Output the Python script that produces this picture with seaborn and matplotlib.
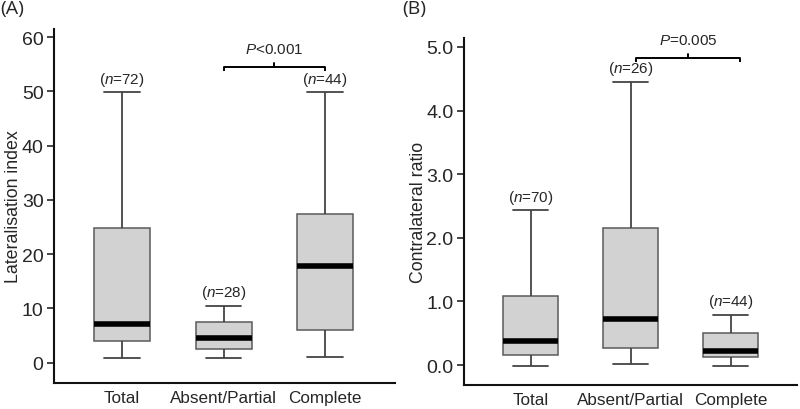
import numpy as np
import pandas as pd
import matplotlib
matplotlib.use("Agg")
import matplotlib.pyplot as plt
import seaborn as sns

# =============================
# Data (five-number summaries)
# =============================
groups = ["Total", "Absent/Partial", "Complete"]

# (A) Lateralisation index
lat_low = [0.9, 0.9, 1.05]
lat_q1 = [4.05, 2.45, 6.1]
lat_med = [7.2, 4.55, 17.9]
lat_q3 = [24.9, 7.5, 27.4]
lat_high = [49.8, 10.4, 49.8]
lat_n = [72, 28, 44]

# (B) Contralateral ratio
cr_low = [-0.01, 0.016, -0.01]
cr_q1 = [0.157, 0.268, 0.131]
cr_med = [0.383, 0.719, 0.22]
cr_q3 = [1.09, 2.15, 0.498]
cr_high = [2.43, 4.45, 0.79]
cr_n = [70, 26, 44]

# significance brackets: (x start, x end, y, label)
lat_bracket = (1.0, 2.0, 54.5, r"$\mathit{P}$<0.001")
cr_bracket = (1.05, 2.09, 4.82, r"$\mathit{P}$=0.005")


def long_frame(low, q1, med, q3, high):
    # 5 values per group -> quartiles fall exactly on them
    rows = []
    for g, vals in zip(groups, zip(low, q1, med, q3, high)):
        for v in vals:
            rows.append({"group": g, "value": v})
    return pd.DataFrame(rows)


df_lat = long_frame(lat_low, lat_q1, lat_med, lat_q3, lat_high)
df_cr = long_frame(cr_low, cr_q1, cr_med, cr_q3, cr_high)

# =============================
# Style
# =============================
sns.set_style("ticks")
plt.rcParams["font.family"] = ["Liberation Sans", "DejaVu Sans"]
plt.rcParams["mathtext.fontset"] = "custom"
plt.rcParams["mathtext.rm"] = "Liberation Sans"
plt.rcParams["mathtext.it"] = "Liberation Sans:italic"

box_kw = dict(
    color="#d2d2d2",
    width=0.55,
    whis=(0, 100),
    linewidth=1.1,
    capwidths=0.35,
    boxprops=dict(edgecolor="#5a5a5a"),
    whiskerprops=dict(color="#444444", linewidth=1.3),
    capprops=dict(color="#444444", linewidth=1.3),
    medianprops=dict(color="black", linewidth=4.0),
    showfliers=False,
)

fig = plt.figure(figsize=(8, 4.1), dpi=100)
ax_a = fig.add_axes([0.0675, 0.064, 0.4265, 0.863])
ax_b = fig.add_axes([0.58, 0.059, 0.416, 0.846])


def draw_panel(ax, df, high, n, bracket, ylim, xlim, ticks, ticklabels, ylabel, label_x):
    sns.boxplot(data=df, x="group", y="value", order=groups, ax=ax, **box_kw)
    ax.set_ylim(*ylim)
    ax.set_xlim(*xlim)
    ax.set_yticks(ticks)
    ax.set_yticklabels(ticklabels)
    ax.set_xlabel("")
    ax.set_ylabel(ylabel, fontsize=12.8)
    ax.yaxis.set_label_coords(label_x, 0.5)
    sns.despine(ax=ax)
    for s in ["left", "bottom"]:
        ax.spines[s].set_linewidth(1.5)
        ax.spines[s].set_color("#111111")
    ax.tick_params(axis="y", labelsize=14, length=5, width=1.2, pad=2.5)
    ax.tick_params(axis="x", labelsize=12.3, length=0, pad=5)

    # n labels above the upper whiskers
    for i, (h, k) in enumerate(zip(high, n)):
        ax.annotate(rf"($\mathit{{n}}$={k})", (i, h), xytext=(0, 3.5),
                    textcoords="offset points", ha="center", va="bottom", fontsize=11)

    # significance bracket
    x0, x1, y, txt = bracket
    span = ylim[1] - ylim[0]
    drop = span * 0.012
    ax.plot([x0, x0, x1, x1], [y - drop, y, y, y - drop], color="black", lw=1.4,
            solid_capstyle="butt", clip_on=False)
    xm = (x0 + x1) / 2
    ax.plot([xm, xm], [y, y + drop], color="black", lw=1.4, clip_on=False)
    ax.text(xm, y + span * 0.052, txt, ha="center", va="center", fontsize=11)


draw_panel(ax_a, df_lat, lat_high, lat_n, lat_bracket, (-3.7, 61.5), (-0.67, 2.69),
           [0, 10, 20, 30, 40, 50, 60], ["0", "10", "20", "30", "40", "50", "60"],
           "Lateralisation index", -0.095)
draw_panel(ax_b, df_cr, cr_high, cr_n, cr_bracket, (-0.31, 5.14), (-0.67, 2.66),
           [0, 1, 2, 3, 4, 5], ["0.0", "1.0", "2.0", "3.0", "4.0", "5.0"],
           "Contralateral ratio", -0.11)

fig.text(0.0, 1.0, "(A)", ha="left", va="top", fontsize=14, family="Open Sans")
fig.text(0.503, 1.0, "(B)", ha="left", va="top", fontsize=14, family="Open Sans")

fig.savefig("out.png", dpi=100)
